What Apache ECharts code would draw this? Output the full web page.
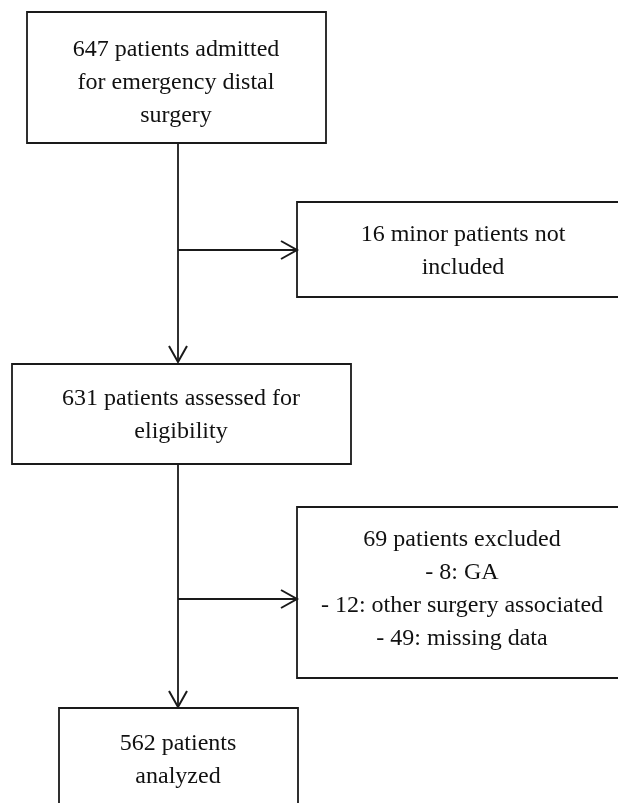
<!DOCTYPE html>
<html>
<head>
<meta charset="utf-8">
<script src="https://cdn.jsdelivr.net/npm/echarts@6/dist/echarts.min.js"></script>
<style>
  html, body { margin: 0; padding: 0; background: #fff; }
  #main { width: 618px; height: 803px; }
</style>
</head>
<body>
<div id="main"></div>
<script>
// box texts (flow order)
var boxLabels = [
  '647 patients admitted\nfor emergency distal\nsurgery',
  '16 minor patients not\nincluded',
  '631 patients assessed for\neligibility',
  '69 patients excluded\n- 8: GA\n- 12: other surgery associated\n- 49: missing data',
  '562 patients\nanalyzed'
]
// layout: [left, top, right, bottom, textX, textY] in pixel space
var boxLayout = [
  [27, 12, 326, 143, 176, 83],
  [297, 202, 625, 297, 463, 251],
  [12, 364, 351, 464, 181, 415],
  [297, 507, 625, 678, 462, 589],
  [59, 708, 298, 820, 178, 760]
]
// arrows: [x0, y0, x1, y1]
var arrows = [
  [178, 143, 178, 362],
  [178, 250, 297, 250],
  [178, 464, 178, 707],
  [178, 599, 297, 599]
]

var chart = echarts.init(document.getElementById('main'))
var lineColor = '#1a1a1a'

chart.setOption({
  animation: false,
  grid: { left: 0, right: 0, top: 0, bottom: 0 },
  xAxis: { type: 'value', min: 0, max: 618, show: false },
  yAxis: { type: 'value', min: 0, max: 803, inverse: true, show: false },
  series: [
    {
      type: 'custom',
      clip: false,
      data: boxLayout.map(function (b, i) { return b.concat([i]) }),
      renderItem: function (params, api) {
        var p0 = api.coord([api.value(0), api.value(1)])
        var p1 = api.coord([api.value(2), api.value(3)])
        var t = api.coord([api.value(4), api.value(5)])
        return {
          type: 'group',
          children: [
            {
              type: 'rect',
              shape: { x: p0[0], y: p0[1], width: p1[0] - p0[0], height: p1[1] - p0[1] },
              style: { fill: '#fff', stroke: lineColor, lineWidth: 1.8 }
            },
            {
              type: 'text',
              style: {
                x: t[0],
                y: t[1],
                text: boxLabels[params.dataIndex],
                align: 'center',
                verticalAlign: 'middle',
                font: '24px "Liberation Serif"',
                lineHeight: 33,
                fill: '#111'
              }
            }
          ]
        }
      }
    },
    {
      type: 'custom',
      clip: false,
      data: arrows,
      renderItem: function (params, api) {
        var a = api.coord([api.value(0), api.value(1)])
        var b = api.coord([api.value(2), api.value(3)])
        var dx = b[0] - a[0], dy = b[1] - a[1]
        var len = Math.sqrt(dx * dx + dy * dy)
        var ux = dx / len, uy = dy / len
        var head = 16, half = 9
        var l = [b[0] - ux * head - uy * half, b[1] - uy * head + ux * half]
        var r = [b[0] - ux * head + uy * half, b[1] - uy * head - ux * half]
        return {
          type: 'group',
          children: [
            { type: 'line', shape: { x1: a[0], y1: a[1], x2: b[0], y2: b[1] }, style: { stroke: lineColor, lineWidth: 1.8 } },
            { type: 'polyline', shape: { points: [l, b, r] }, style: { stroke: lineColor, lineWidth: 2, fill: null } }
          ]
        }
      }
    }
  ]
})
</script>
</body>
</html>
